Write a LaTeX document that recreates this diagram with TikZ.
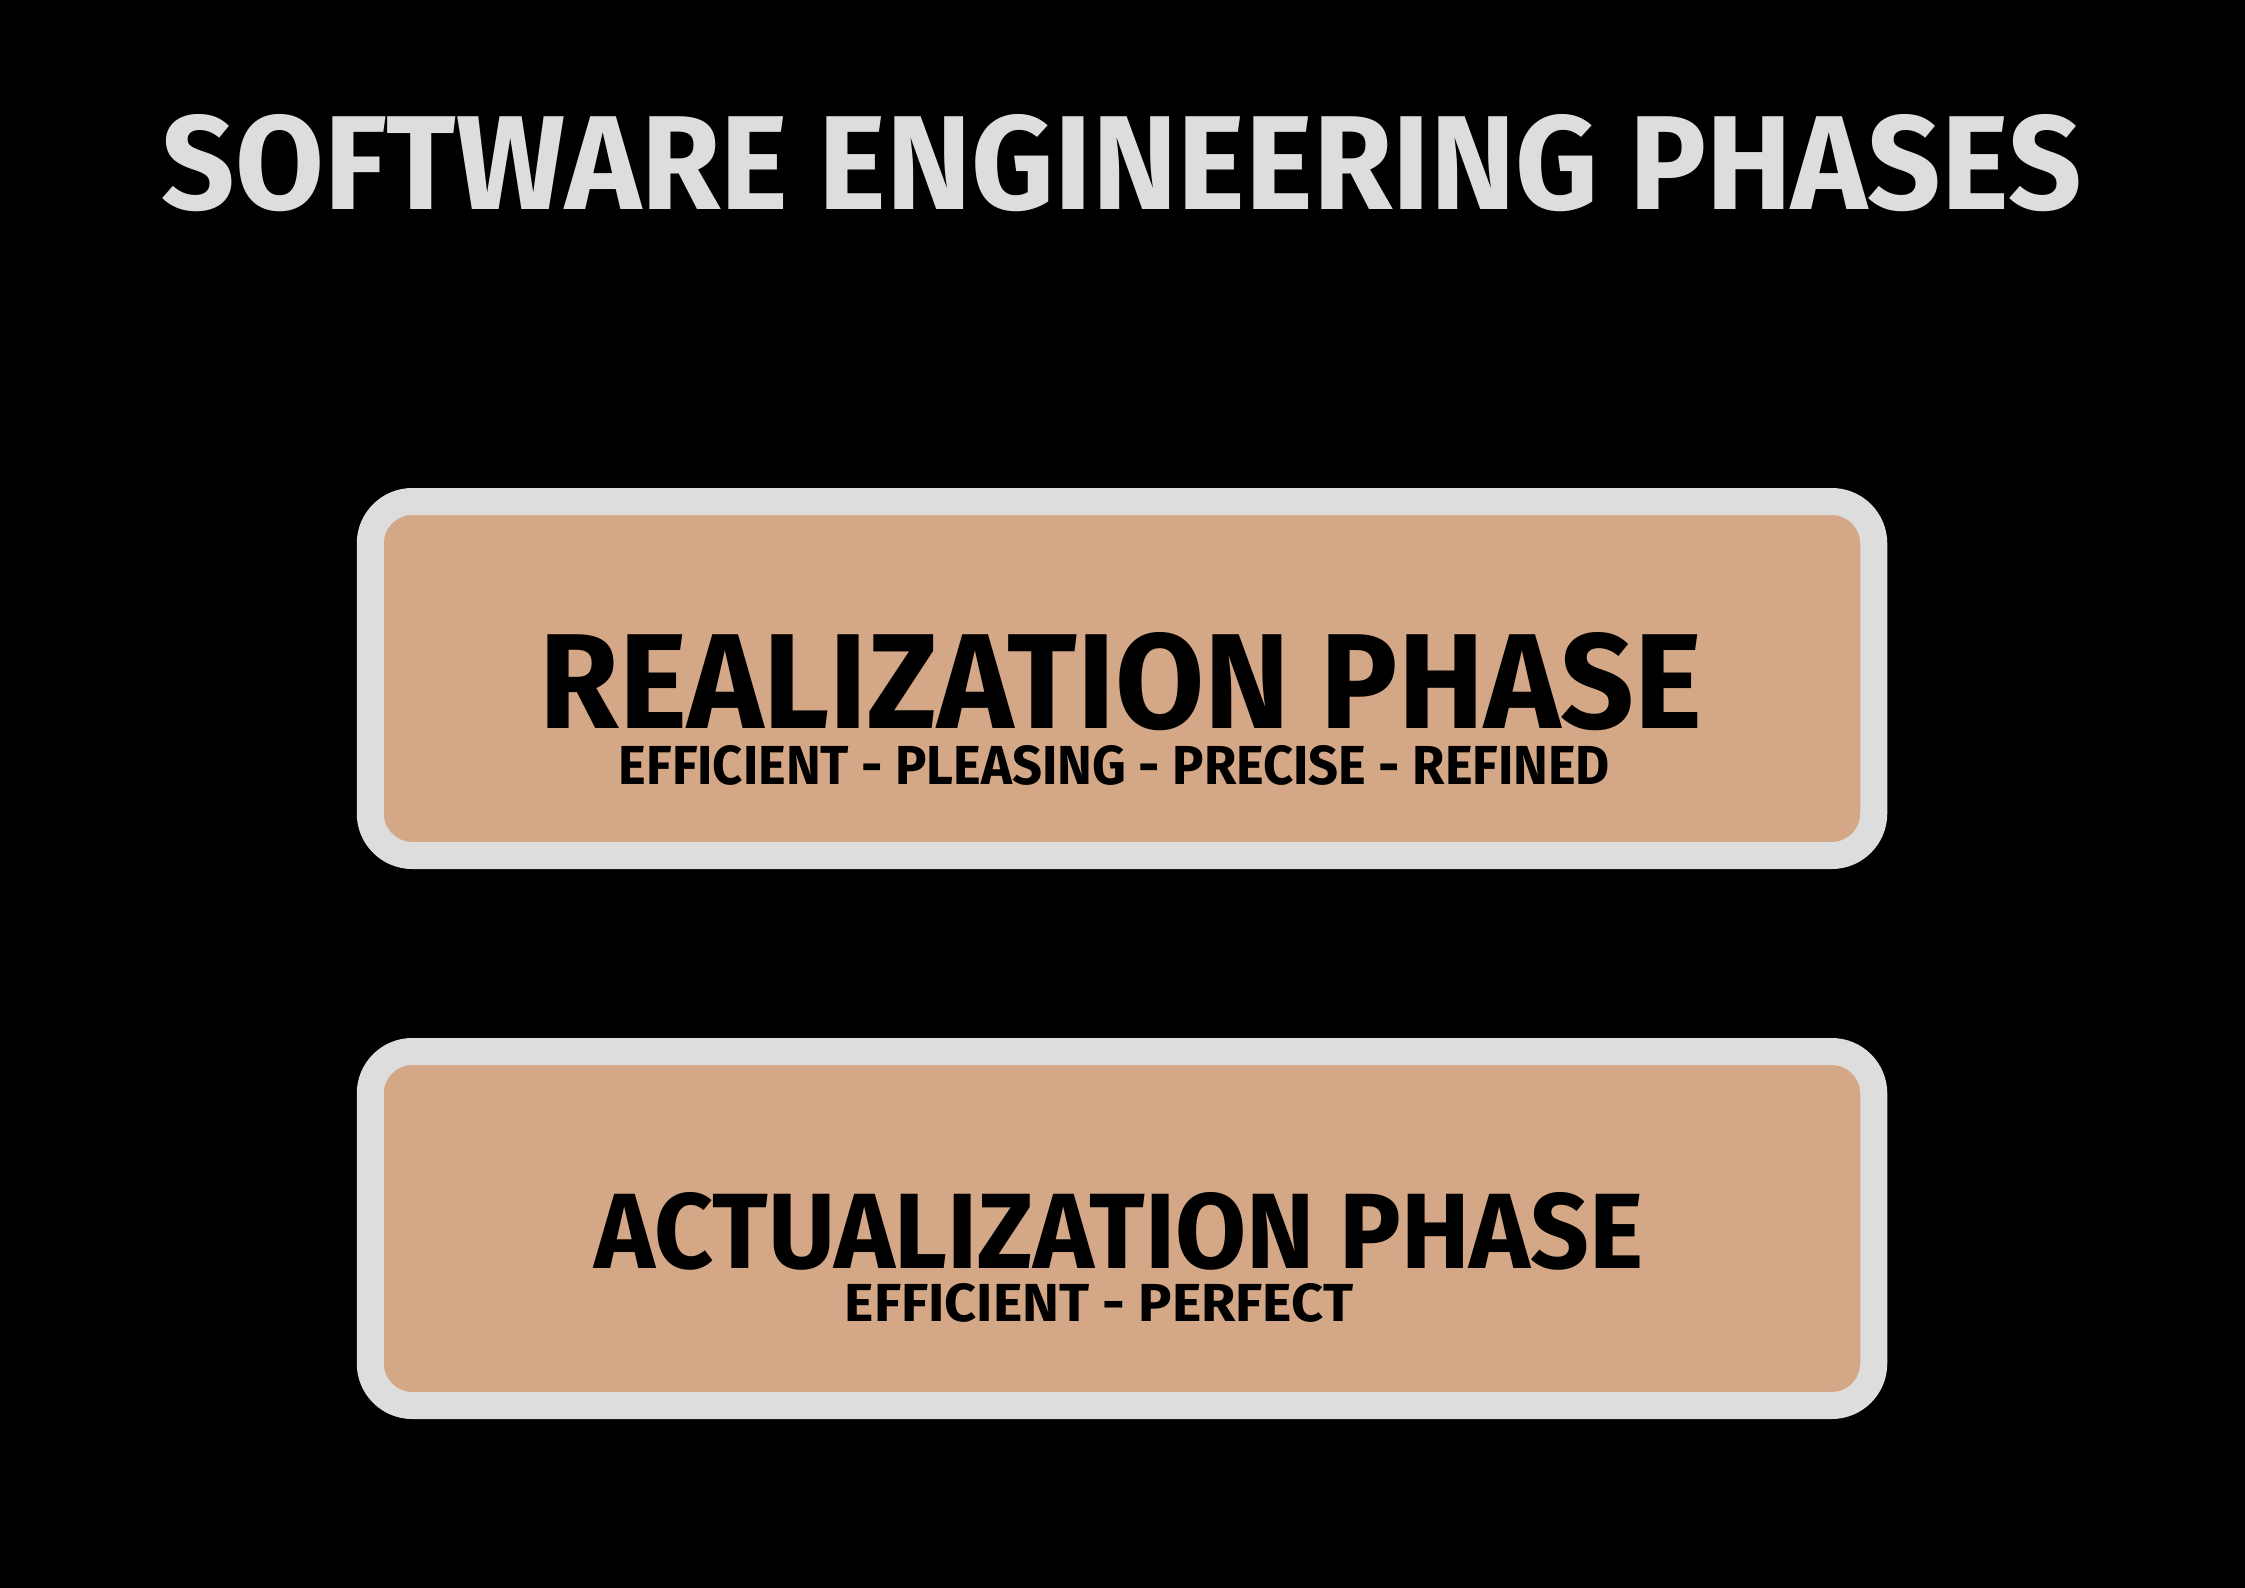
\documentclass[tikz,border=0pt]{standalone}
\usepackage{graphicx}
\usepackage{fontspec}
\setmainfont{Fira Sans}
\definecolor{bgblack}{HTML}{000000}
\definecolor{framegray}{HTML}{DDDDDD}
\definecolor{phasetan}{HTML}{D4A886}
\tikzset{
  phasebox/.style={draw=framegray, fill=phasetan, line width=27pt,
    rounded corners=42pt, minimum width=1503.5pt, minimum height=354pt,
    inner sep=0pt},
  fittext/.style={inner sep=0pt, outer sep=0pt, font=\bfseries},
}
\newcommand{\fitto}[3]{\resizebox{#1pt}{#2pt}{#3}}
\begin{document}
\begin{tikzpicture}[x=1pt,y=-1pt]
  % canvas (fill bleeds past the page edge so no light seam is left)
  \useasboundingbox (0,0) rectangle (2245,1587);
  \fill[bgblack] (-10,-10) rectangle (2255,1597);

  % heading
  \node[fittext, text=framegray] (title) at (1121.5,163.5)
    {\fitto{1919}{95}{SOFTWARE ENGINEERING PHASES}};

  % phase panels
  \node[phasebox] (box1) at (1122,678.5) {};
  \node[phasebox] (box2) at (1122,1228.5) {};

  % first panel text
  \node[fittext, text=black] (t1) at (1121,682)
    {\fitto{1162}{96}{REALIZATION PHASE}};
  \node[fittext, text=black] (s1) at (1114.5,765.5)
    {\fitto{991}{39}{EFFICIENT - PLEASING - PRECISE - REFINED}};

  % second panel text
  \node[fittext, text=black] (t2) at (1119,1231)
    {\fitto{1048}{76}{ACTUALIZATION PHASE}};
  \node[fittext, text=black] (s2) at (1099,1303)
    {\fitto{508}{38}{EFFICIENT - PERFECT}};
\end{tikzpicture}
\end{document}
